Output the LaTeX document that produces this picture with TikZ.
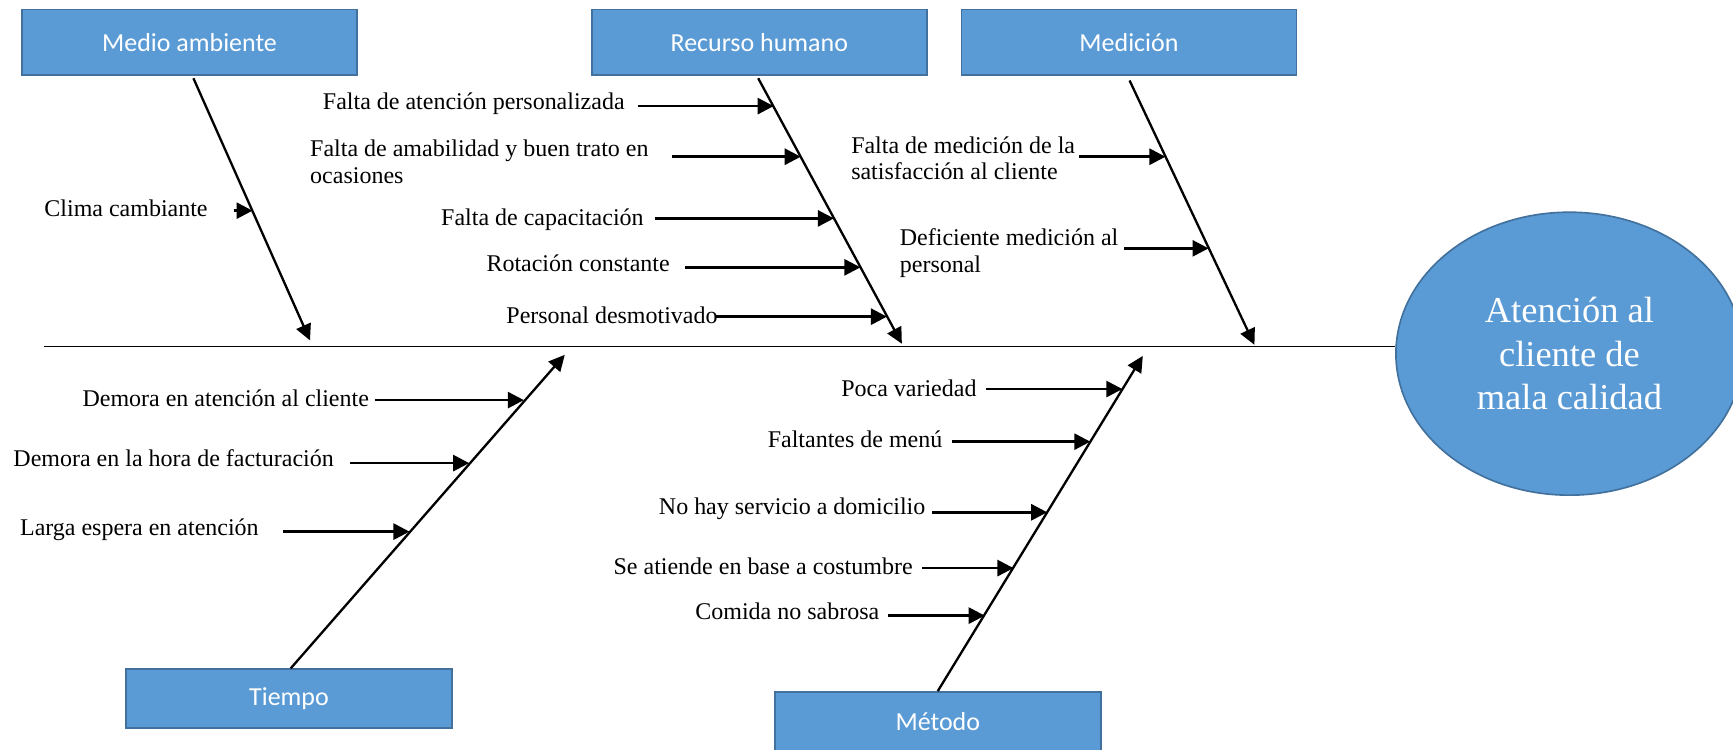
\documentclass[tikz,border=0pt]{standalone}
\usepackage{fontspec}
\setmainfont{Liberation Serif}
\newfontfamily\boxfont{Carlito}
\usetikzlibrary{arrows.meta,shapes.geometric}
\definecolor{boxblue}{HTML}{5B9BD5}
\definecolor{boxedge}{HTML}{41719C}
\begin{document}
\begin{tikzpicture}[x=1pt,y=-1pt,
  catbox/.style={draw=boxedge, line width=1.5pt, fill=boxblue, text=white,
    font=\boxfont\fontsize{23.5}{28}\selectfont, inner sep=0pt},
  lbl/.style={anchor=west, inner sep=0pt, align=left, font=\fontsize{21.7}{24}\selectfont},
  bone/.style={line width=2.1pt, -{Triangle[length=14.5pt,width=14pt]}},
  cause/.style={line width=2.4pt, -{Triangle[length=14.5pt,width=14.5pt]}},
  spine/.style={line width=1.3pt}]
\useasboundingbox (0,0) rectangle (1568,678);
\clip (0,0) rectangle (1568,678);

% category boxes
\node[catbox, minimum width=303pt, minimum height=59.5pt] (ma) at (171.5,38.3) {Medio ambiente};
\node[catbox, minimum width=303pt, minimum height=59.5pt] (rh) at (687,38.3) {Recurso humano};
\node[catbox, minimum width=303pt, minimum height=59.5pt] (me) at (1021.5,38.3) {Medición};
\node[catbox, minimum width=295pt, minimum height=53pt] (ti) at (261.5,632) {Tiempo};
\node[catbox, minimum width=295pt, minimum height=54pt] (mt) at (848.5,653) {Método};

% effect
\node[ellipse, fill=boxblue, draw=boxedge, line width=1.5pt, minimum width=314pt,
  minimum height=256pt, inner sep=0pt, text=white, align=center,
  font=\fontsize{33}{39.5}\selectfont] (eff) at (1420,320)
  {Atención al\\cliente de\\mala calidad};

% spine
\coordinate (sp0) at (40,313.5);
\draw[spine] (sp0) -- (sp0 -| eff.west);

% bones
\coordinate (tma) at (280.5,308);
\coordinate (trh) at (816,311);
\coordinate (tme) at (1135,312);
\coordinate (tti) at (511,321);
\coordinate (tmt) at (1034,322);
\draw[bone] ([xshift=3.5pt,yshift=-2pt]ma.south) -- (tma);
\draw[bone] ([xshift=-1pt,yshift=-2pt]rh.south) -- (trh);
\draw[bone] ([xshift=0.5pt,yshift=-4pt]me.south) -- (tme);
\draw[bone] ([xshift=1.5pt]ti.north) -- (tti);
\draw[bone] (mt.north) -- (tmt);

% Medio ambiente
\node[lbl] (l1) at (40,188.5) {Clima cambiante};
\coordinate (a1s) at (212,190.6); \coordinate (a1e) at (228.5,190.6);
\draw[cause] (a1s) -- (a1e);

% Recurso humano
\node[lbl] (l2) at (292,93.5) {Falta de atención personalizada};
\coordinate (a2s) at (577,96); \coordinate (a2e) at (700,96);
\draw[cause] (a2s) -- (a2e);
\node[lbl] (l3) at (280.5,146.5) {Falta de amabilidad y buen trato en\\ocasiones};
\coordinate (a3s) at (608,141.8); \coordinate (a3e) at (724.5,141.8);
\draw[cause] (a3s) -- (a3e);
\node[lbl] (l4) at (399,198.5) {Falta de capacitación};
\coordinate (a4s) at (592.5,197.6); \coordinate (a4e) at (754.5,197.6);
\draw[cause] (a4s) -- (a4e);
\node[lbl] (l5) at (440,238) {Rotación constante};
\coordinate (a5s) at (620,241.9); \coordinate (a5e) at (778.5,241.9);
\draw[cause] (a5s) -- (a5e);
\node[lbl] (l6) at (458,285) {Personal desmotivado};
\coordinate (a6s) at (648,286.5); \coordinate (a6e) at (802.5,286.5);
\draw[cause] (a6s) -- (a6e);

% Medicion
\node[lbl] (l7) at (770,143) {Falta de medición de la\\satisfacción al cliente};
\coordinate (a7s) at (976,141.8); \coordinate (a7e) at (1054.5,141.8);
\draw[cause] (a7s) -- (a7e);
\node[lbl] (l8) at (814,228.8) {Deficiente medición al\\personal};
\coordinate (a8s) at (1017,224.7); \coordinate (a8e) at (1093.5,224.7);
\draw[cause] (a8s) -- (a8e);

% Tiempo
\node[lbl] (l9) at (74.5,360) {Demora en atención al cliente};
\coordinate (a9s) at (339,362); \coordinate (a9e) at (474,362);
\draw[cause] (a9s) -- (a9e);
\node[lbl] (l10) at (12,414.6) {Demora en la hora de facturación};
\coordinate (a10s) at (317,419); \coordinate (a10e) at (424.5,419);
\draw[cause] (a10s) -- (a10e);
\node[lbl] (l11) at (18,479) {Larga espera en atención};
\coordinate (a11s) at (256,481); \coordinate (a11e) at (370.5,481);
\draw[cause] (a11s) -- (a11e);

% Metodo
\node[lbl] (l12) at (761,351) {Poca variedad};
\coordinate (a12s) at (892,352); \coordinate (a12e) at (1015.5,352);
\draw[cause] (a12s) -- (a12e);
\node[lbl] (l13) at (694.5,397) {Faltantes de menú};
\coordinate (a13s) at (861,399.6); \coordinate (a13e) at (986.5,399.6);
\draw[cause] (a13s) -- (a13e);
\node[lbl] (l14) at (596,460) {No hay servicio a domicilio};
\coordinate (a14s) at (843.5,463.5); \coordinate (a14e) at (947.5,463.5);
\draw[cause] (a14s) -- (a14e);
\node[lbl] (l15) at (555,512) {Se atiende en base a costumbre};
\coordinate (a15s) at (834.5,514); \coordinate (a15e) at (917,514);
\draw[cause] (a15s) -- (a15e);
\node[lbl] (l16) at (629,553.5) {Comida no sabrosa};
\coordinate (a16s) at (803.5,557); \coordinate (a16e) at (891,557);
\draw[cause] (a16s) -- (a16e);
\end{tikzpicture}
\end{document}
